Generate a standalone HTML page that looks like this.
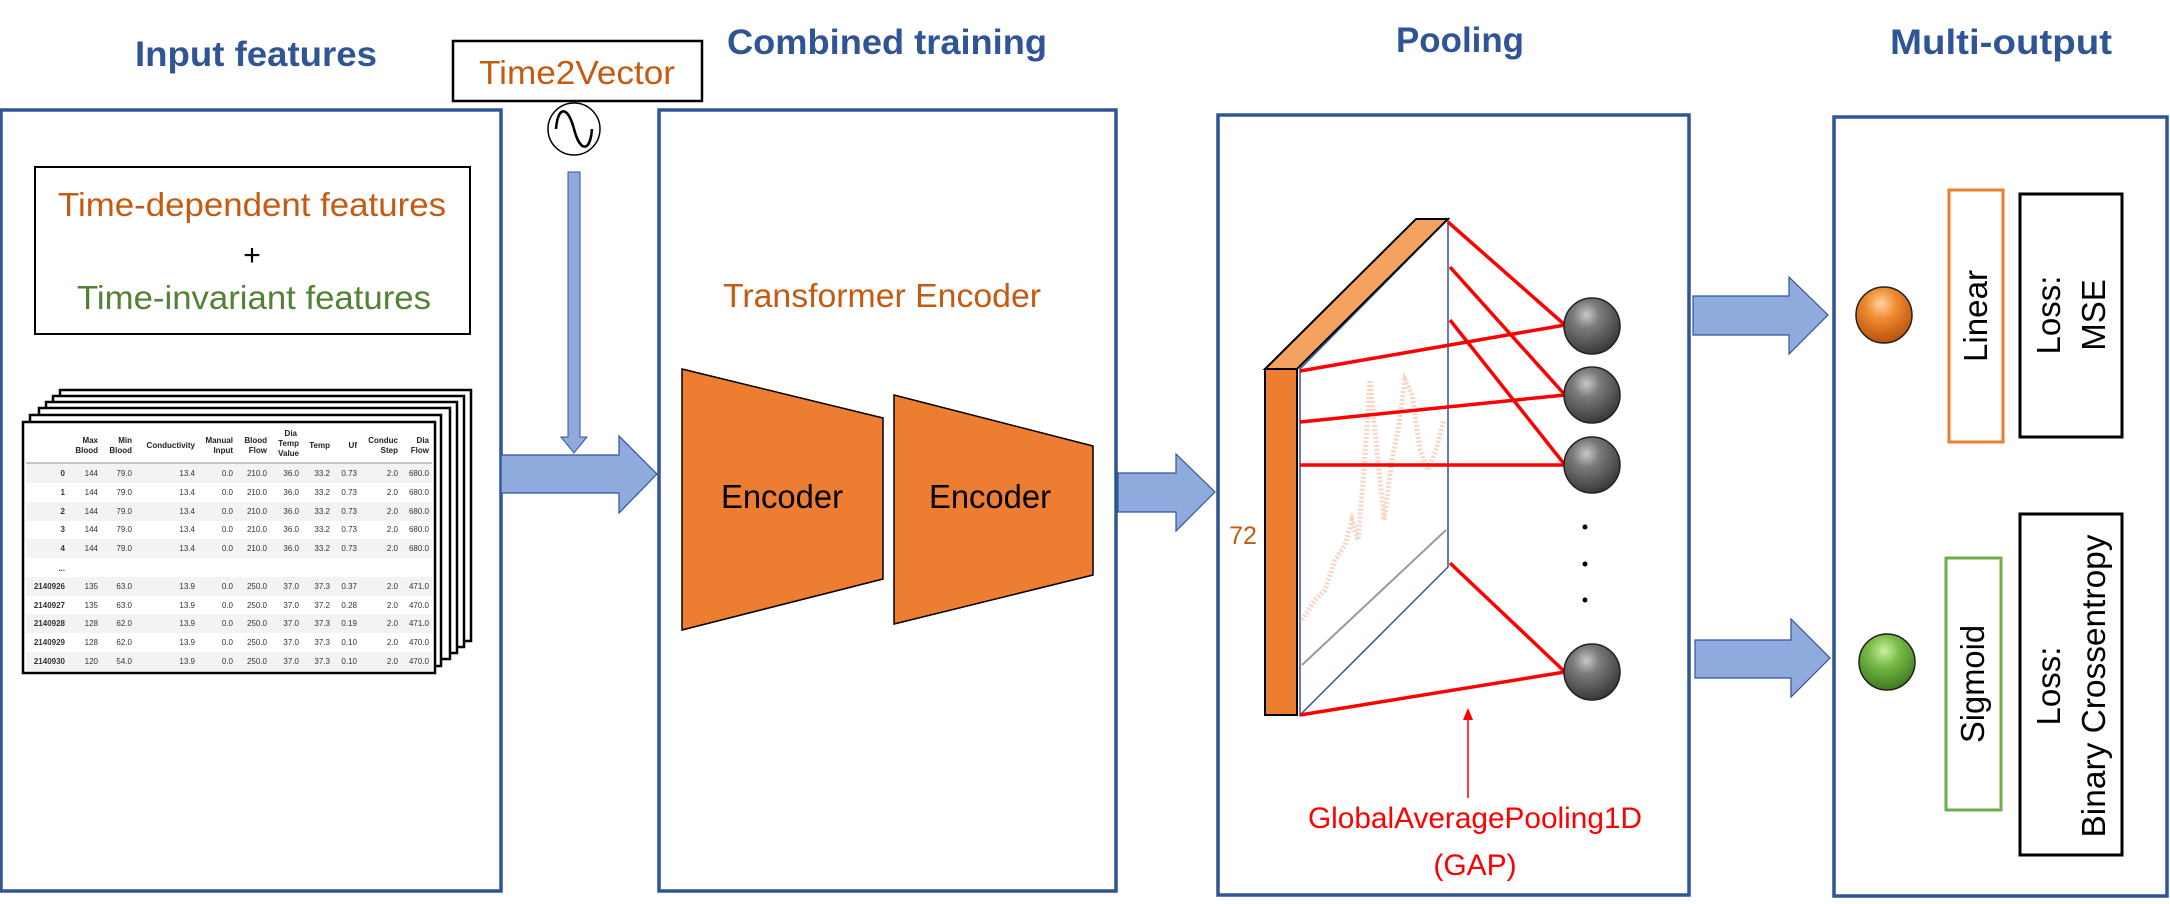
<!DOCTYPE html>
<html><head><meta charset="utf-8"><style>
html,body{margin:0;padding:0;background:#fff;}
svg{display:block;}
text{font-family:"Liberation Sans",sans-serif;}
</style></head><body>
<svg width="2170" height="904" viewBox="0 0 2170 904" xmlns="http://www.w3.org/2000/svg">
<defs>
<radialGradient id="gray" cx="0.4" cy="0.3" r="0.7">
<stop offset="0" stop-color="#c8c8c8"/><stop offset="0.35" stop-color="#7a7a7a"/><stop offset="1" stop-color="#3a3a3a"/>
</radialGradient>
<radialGradient id="org" cx="0.45" cy="0.3" r="0.7">
<stop offset="0" stop-color="#ffd2a0"/><stop offset="0.4" stop-color="#f08a30"/><stop offset="1" stop-color="#b8520c"/>
</radialGradient>
<radialGradient id="grn" cx="0.45" cy="0.3" r="0.7">
<stop offset="0" stop-color="#c8f0a0"/><stop offset="0.4" stop-color="#78bb48"/><stop offset="1" stop-color="#3f7a20"/>
</radialGradient>
</defs>

<!-- titles -->
<g font-weight="bold" fill="#2F5597" font-size="35" text-anchor="middle">
<text x="256" y="66" textLength="242" lengthAdjust="spacingAndGlyphs">Input features</text>
<text x="887" y="54" textLength="320" lengthAdjust="spacingAndGlyphs">Combined training</text>
<text x="1460" y="52" textLength="128" lengthAdjust="spacingAndGlyphs">Pooling</text>
<text x="2001" y="54" textLength="222" lengthAdjust="spacingAndGlyphs">Multi-output</text>
</g>

<!-- panels -->
<g fill="none" stroke="#2F5597" stroke-width="3.5">
<rect x="1" y="110" width="500" height="781"/>
<rect x="659" y="110" width="457" height="781"/>
<rect x="1218" y="115" width="471" height="780"/>
<rect x="1834" y="117" width="333" height="779"/>
</g>

<!-- Time2Vector -->
<rect x="453" y="41" width="249" height="60" fill="#fff" stroke="#000" stroke-width="2.5"/>
<text x="577" y="84" text-anchor="middle" font-size="33" fill="#C55A11" textLength="196" lengthAdjust="spacingAndGlyphs">Time2Vector</text>
<circle cx="574" cy="129" r="26" fill="#fff" stroke="#000" stroke-width="1.5"/>
<path d="M556,129 C558,105 568,106 574,129 C580,152 590,153 592,129" fill="none" stroke="#000" stroke-width="2.5"/>
<path d="M568,172 H580 V437 H587 L574,453 L561,437 H568 Z" fill="#8FAADC" stroke="#2F5597" stroke-width="1"/>

<!-- features box -->
<rect x="35" y="167" width="435" height="167" fill="#fff" stroke="#000" stroke-width="2"/>
<text x="252" y="216" text-anchor="middle" font-size="33" fill="#C55A11" textLength="388" lengthAdjust="spacingAndGlyphs">Time-dependent features</text>
<text x="252" y="265" text-anchor="middle" font-size="30" fill="#000">+</text>
<text x="254" y="309" text-anchor="middle" font-size="33" fill="#538135" textLength="354" lengthAdjust="spacingAndGlyphs">Time-invariant features</text>

<!-- stacked sheets -->
<g fill="#fff" stroke="#000" stroke-width="2.5">
<rect x="60" y="390" width="411" height="251"/>
<rect x="53" y="396" width="411" height="251"/>
<rect x="46" y="402" width="411" height="251"/>
<rect x="39" y="408" width="411" height="251"/>
<rect x="30" y="415" width="411" height="251"/>
<rect x="23" y="422" width="412" height="251"/>
</g>
<g fill="#f3f3f3">
<rect x="26" y="464" width="406" height="19"/>
<rect x="26" y="502" width="406" height="19"/>
<rect x="26" y="539" width="406" height="19"/>
<rect x="26" y="577" width="406" height="19"/>
<rect x="26" y="614" width="406" height="19"/>
<rect x="26" y="652" width="406" height="19"/>
</g>
<line x1="26" y1="463" x2="432" y2="463" stroke="#888" stroke-width="1"/>
<g font-size="8" font-weight="bold" fill="#222" text-anchor="end">
<text x="98" y="443">Max</text><text x="98" y="453">Blood</text>
<text x="132" y="443">Min</text><text x="132" y="453">Blood</text>
<text x="195" y="448">Conductivity</text>
<text x="233" y="443">Manual</text><text x="233" y="453">Input</text>
<text x="267" y="443">Blood</text><text x="267" y="453">Flow</text>
<text x="297" y="436">Dia</text><text x="299" y="446">Temp</text><text x="299" y="456">Value</text>
<text x="330" y="448">Temp</text>
<text x="357" y="448">Uf</text>
<text x="398" y="443">Conduc</text><text x="398" y="453">Step</text>
<text x="429" y="443">Dia</text><text x="429" y="453">Flow</text>
</g>
<g font-size="8" fill="#333" text-anchor="end">
<g font-weight="bold"><text x="65" y="476">0</text><text x="65" y="495">1</text><text x="65" y="514">2</text><text x="65" y="532">3</text><text x="65" y="551">4</text><text x="65" y="571">...</text>
<text x="65" y="589">2140926</text><text x="65" y="608">2140927</text><text x="65" y="626">2140928</text><text x="65" y="645">2140929</text><text x="65" y="664">2140930</text></g>
<text x="98" y="476">144</text><text x="132" y="476">79.0</text><text x="195" y="476">13.4</text><text x="233" y="476">0.0</text><text x="267" y="476">210.0</text><text x="299" y="476">36.0</text><text x="330" y="476">33.2</text><text x="357" y="476">0.73</text><text x="398" y="476">2.0</text><text x="429" y="476">680.0</text>
<text x="98" y="495">144</text><text x="132" y="495">79.0</text><text x="195" y="495">13.4</text><text x="233" y="495">0.0</text><text x="267" y="495">210.0</text><text x="299" y="495">36.0</text><text x="330" y="495">33.2</text><text x="357" y="495">0.73</text><text x="398" y="495">2.0</text><text x="429" y="495">680.0</text>
<text x="98" y="514">144</text><text x="132" y="514">79.0</text><text x="195" y="514">13.4</text><text x="233" y="514">0.0</text><text x="267" y="514">210.0</text><text x="299" y="514">36.0</text><text x="330" y="514">33.2</text><text x="357" y="514">0.73</text><text x="398" y="514">2.0</text><text x="429" y="514">680.0</text>
<text x="98" y="532">144</text><text x="132" y="532">79.0</text><text x="195" y="532">13.4</text><text x="233" y="532">0.0</text><text x="267" y="532">210.0</text><text x="299" y="532">36.0</text><text x="330" y="532">33.2</text><text x="357" y="532">0.73</text><text x="398" y="532">2.0</text><text x="429" y="532">680.0</text>
<text x="98" y="551">144</text><text x="132" y="551">79.0</text><text x="195" y="551">13.4</text><text x="233" y="551">0.0</text><text x="267" y="551">210.0</text><text x="299" y="551">36.0</text><text x="330" y="551">33.2</text><text x="357" y="551">0.73</text><text x="398" y="551">2.0</text><text x="429" y="551">680.0</text>
<text x="98" y="589">135</text><text x="132" y="589">63.0</text><text x="195" y="589">13.9</text><text x="233" y="589">0.0</text><text x="267" y="589">250.0</text><text x="299" y="589">37.0</text><text x="330" y="589">37.3</text><text x="357" y="589">0.37</text><text x="398" y="589">2.0</text><text x="429" y="589">471.0</text>
<text x="98" y="608">135</text><text x="132" y="608">63.0</text><text x="195" y="608">13.9</text><text x="233" y="608">0.0</text><text x="267" y="608">250.0</text><text x="299" y="608">37.0</text><text x="330" y="608">37.2</text><text x="357" y="608">0.28</text><text x="398" y="608">2.0</text><text x="429" y="608">470.0</text>
<text x="98" y="626">128</text><text x="132" y="626">62.0</text><text x="195" y="626">13.9</text><text x="233" y="626">0.0</text><text x="267" y="626">250.0</text><text x="299" y="626">37.0</text><text x="330" y="626">37.3</text><text x="357" y="626">0.19</text><text x="398" y="626">2.0</text><text x="429" y="626">471.0</text>
<text x="98" y="645">128</text><text x="132" y="645">62.0</text><text x="195" y="645">13.9</text><text x="233" y="645">0.0</text><text x="267" y="645">250.0</text><text x="299" y="645">37.0</text><text x="330" y="645">37.3</text><text x="357" y="645">0.10</text><text x="398" y="645">2.0</text><text x="429" y="645">470.0</text>
<text x="98" y="664">120</text><text x="132" y="664">54.0</text><text x="195" y="664">13.9</text><text x="233" y="664">0.0</text><text x="267" y="664">250.0</text><text x="299" y="664">37.0</text><text x="330" y="664">37.3</text><text x="357" y="664">0.10</text><text x="398" y="664">2.0</text><text x="429" y="664">470.0</text>
</g>

<!-- big arrows -->
<g fill="#8FAADC" stroke="#2F5597" stroke-width="1.2">
<path d="M501,455 H619 V436 L657,474 L619,513 V493 H501 Z"/>
<path d="M1118,473 H1176 V454 L1215,492 L1176,531 V512 H1118 Z"/>
<path d="M1693,296 H1789 V277 L1828,315 L1789,354 V335 H1693 Z"/>
<path d="M1695,640 H1791 V619 L1830,658 L1791,697 V678 H1695 Z"/>
</g>

<!-- transformer -->
<text x="882" y="307" text-anchor="middle" font-size="33" fill="#C55A11" textLength="318" lengthAdjust="spacingAndGlyphs">Transformer Encoder</text>
<path d="M682,369 L883,418 L883,579 L682,630 Z" fill="#ED7D31" stroke="#000" stroke-width="1.5"/>
<path d="M894,395 L1093,446 L1093,575 L894,624 Z" fill="#ED7D31" stroke="#000" stroke-width="1.5"/>
<text x="782" y="508" text-anchor="middle" font-size="33" fill="#000" textLength="122" lengthAdjust="spacingAndGlyphs">Encoder</text>
<text x="990" y="508" text-anchor="middle" font-size="33" fill="#000" textLength="122" lengthAdjust="spacingAndGlyphs">Encoder</text>

<!-- pooling -->
<path d="M1300,369 L1448,219 L1448,567 L1300,715 Z" fill="#fff" stroke="#2F5597" stroke-width="1.5"/>
<polyline points="1302,620 1315,600 1325,590 1335,560 1345,545 1352,520 1358,540 1364,470 1370,380 1376,440 1384,520 1392,460 1398,430 1405,380 1412,395 1420,450 1428,470 1436,450 1444,420" fill="none" stroke="#f4b89a" stroke-width="5" stroke-dasharray="2 2" opacity="0.6"/>
<line x1="1302" y1="665" x2="1446" y2="530" stroke="#999" stroke-width="2"/>
<path d="M1265,369 L1416,219 L1448,219 L1297,369 Z" fill="#F4A261" stroke="#000" stroke-width="2"/>
<rect x="1265" y="369" width="32" height="346" fill="#ED7D31" stroke="#000" stroke-width="2"/>
<text x="1243" y="544" text-anchor="middle" font-size="25" fill="#C55A11">72</text>
<g stroke="#FF0000" stroke-width="3.5">
<line x1="1448" y1="222" x2="1565" y2="325"/>
<line x1="1300" y1="371" x2="1565" y2="325"/>
<line x1="1450" y1="267" x2="1565" y2="395"/>
<line x1="1300" y1="422" x2="1565" y2="395"/>
<line x1="1450" y1="320" x2="1565" y2="465"/>
<line x1="1300" y1="465" x2="1565" y2="465"/>
<line x1="1450" y1="563" x2="1565" y2="672"/>
<line x1="1300" y1="715" x2="1565" y2="672"/>
</g>
<g fill="url(#gray)" stroke="#222" stroke-width="1.5">
<circle cx="1592" cy="326" r="28"/>
<circle cx="1592" cy="395" r="28"/>
<circle cx="1592" cy="465" r="28"/>
<circle cx="1592" cy="672" r="28"/>
</g>
<g fill="#000"><circle cx="1585" cy="527" r="2.5"/><circle cx="1585" cy="564" r="2.5"/><circle cx="1585" cy="600" r="2.5"/></g>
<line x1="1468" y1="798" x2="1468" y2="718" stroke="#FF0000" stroke-width="1.5"/>
<path d="M1463,720 L1468,708 L1473,720 Z" fill="#FF0000"/>
<text x="1475" y="828" text-anchor="middle" font-size="30" fill="#FF0000" textLength="334" lengthAdjust="spacingAndGlyphs">GlobalAveragePooling1D</text>
<text x="1475" y="875" text-anchor="middle" font-size="30" fill="#FF0000">(GAP)</text>

<!-- multi output -->
<circle cx="1884" cy="315" r="28" fill="url(#org)" stroke="#222" stroke-width="1.5"/>
<circle cx="1887" cy="662" r="28" fill="url(#grn)" stroke="#222" stroke-width="1.5"/>
<rect x="1949" y="190" width="54" height="252" fill="#fff" stroke="#ED7D31" stroke-width="3"/>
<text transform="translate(1987,316) rotate(-90)" text-anchor="middle" font-size="33" fill="#000" textLength="92" lengthAdjust="spacingAndGlyphs">Linear</text>
<rect x="2020" y="194" width="102" height="243" fill="#fff" stroke="#000" stroke-width="3"/>
<text transform="translate(2060,315) rotate(-90)" text-anchor="middle" font-size="33" fill="#000">Loss:</text>
<text transform="translate(2105,315) rotate(-90)" text-anchor="middle" font-size="33" fill="#000">MSE</text>
<rect x="1946" y="558" width="55" height="252" fill="#fff" stroke="#70AD47" stroke-width="3"/>
<text transform="translate(1984,684) rotate(-90)" text-anchor="middle" font-size="33" fill="#000" textLength="118" lengthAdjust="spacingAndGlyphs">Sigmoid</text>
<rect x="2020" y="514" width="102" height="341" fill="#fff" stroke="#000" stroke-width="3"/>
<text transform="translate(2060,686) rotate(-90)" text-anchor="middle" font-size="33" fill="#000">Loss:</text>
<text transform="translate(2105,686) rotate(-90)" text-anchor="middle" font-size="33" fill="#000" textLength="303" lengthAdjust="spacingAndGlyphs">Binary Crossentropy</text>
</svg>
</body></html>
